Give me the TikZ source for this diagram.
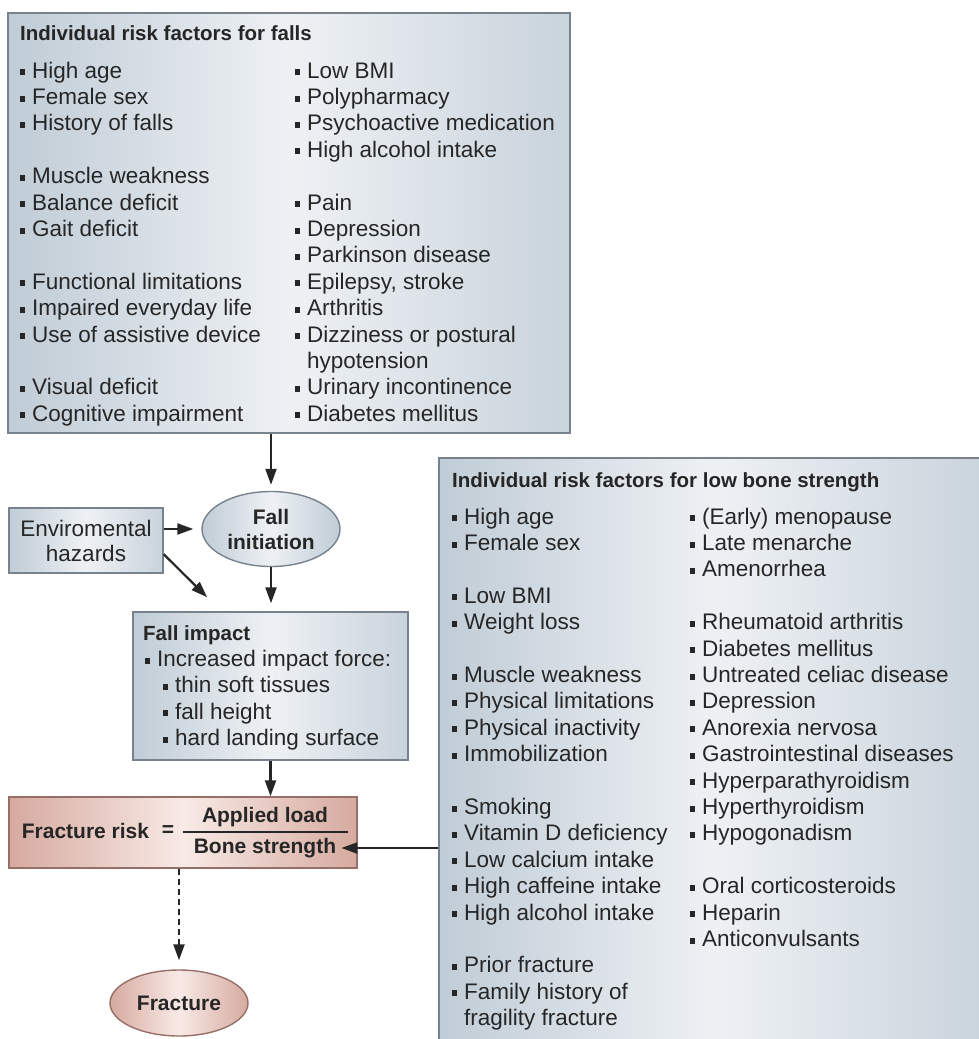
\documentclass[tikz,border=0pt]{standalone}
\usepackage{fontspec}
\setmainfont{Liberation Sans}
\usetikzlibrary{positioning, shapes.geometric, arrows.meta, calc}

\definecolor{boxdark}{RGB}{192,204,214}
\definecolor{boxlight}{RGB}{238,241,244}
\definecolor{boxline}{RGB}{120,130,140}
\definecolor{pinkdark}{RGB}{214,170,160}
\definecolor{pinklight}{RGB}{248,234,230}
\definecolor{pinkline}{RGB}{150,112,104}
\definecolor{inkgray}{RGB}{38,38,38}

\newcommand{\listfont}{\fontsize{22.5}{26.4}\selectfont}
\newcommand{\headfont}{\fontsize{20.5}{26.4}\selectfont\bfseries}
\newcommand{\sqbullet}{\rule[3pt]{5pt}{6pt}\hspace{7pt}}
\newcommand{\itm}[1]{\sqbullet#1}

\begin{document}
\begin{tikzpicture}[
    x=1pt, y=-1pt,
    % Define styles
    panel/.style={rectangle, draw=boxline, line width=1.4pt, inner sep=0pt, left color=boxdark, right color=boxdark!80!boxlight, middle color=boxlight},
    riskpanel/.style={rectangle, draw=pinkline, line width=1.4pt, inner sep=0pt, left color=pinkdark, right color=pinkdark, middle color=pinklight},
    oval/.style={ellipse, draw=boxline, line width=1.4pt, inner sep=0pt, align=center, text=inkgray, font={\fontsize{21}{25}\selectfont\bfseries}, left color=boxdark, right color=boxdark, middle color=boxlight},
    riskoval/.style={oval, draw=pinkline, left color=pinkdark, right color=pinkdark, middle color=pinklight},
    listtext/.style={inner sep=0pt, anchor=north west, text=inkgray, font=\listfont},
    term/.style={inner sep=2pt, text=inkgray, font={\fontsize{21}{25}\selectfont\bfseries}},
    arrow/.style={-{Triangle[length=16pt,width=11pt]}, line width=2.2pt, draw=inkgray}
]
    \useasboundingbox (0,0) rectangle (979,1039);
    \clip (0,0) rectangle (979,1039);

    % --- FALLS PANEL ---
    \node (falls) [panel, minimum width=562pt, minimum height=420pt] at (289,223) {};
    \node (fallslist) [listtext] at (20,21.5) {%
      \begin{tabular}{@{}p{275pt}@{}p{270pt}@{}}
      \multicolumn{2}{@{}l@{}}{\headfont Individual risk factors for falls}\\[11.6pt]
      \itm{High age} & \itm{Low BMI}\\
      \itm{Female sex} & \itm{Polypharmacy}\\
      \itm{History of falls} & \itm{Psychoactive medication}\\
       & \itm{High alcohol intake}\\
      \itm{Muscle weakness} & \\
      \itm{Balance deficit} & \itm{Pain}\\
      \itm{Gait deficit} & \itm{Depression}\\
       & \itm{Parkinson disease}\\
      \itm{Functional limitations} & \itm{Epilepsy, stroke}\\
      \itm{Impaired everyday life} & \itm{Arthritis}\\
      \itm{Use of assistive device} & \itm{Dizziness or postural}\\
       & \hspace{12pt}hypotension\\
      \itm{Visual deficit} & \itm{Urinary incontinence}\\
      \itm{Cognitive impairment} & \itm{Diabetes mellitus}\\
      \end{tabular}};

    % --- FALL CHAIN ---
    \node (env) [panel, minimum width=154pt, minimum height=65pt, align=center, text=inkgray, font={\fontsize{22.5}{25}\selectfont}] at (86,540.5) {Enviromental\\hazards};
    \node (init) [oval, minimum width=138pt, minimum height=75pt] at (271,529) {Fall\\initiation};

    \node (impact) [panel, minimum width=275pt, minimum height=148pt] at (270.5,686) {};
    \node (impactlist) [listtext] at (143,621.5) {%
      \begin{tabular}{@{}l@{}}
      {\headfont Fall impact}\\
      \hspace{2pt}\itm{Increased impact force:}\\
      \hspace{20pt}\itm{thin soft tissues}\\
      \hspace{20pt}\itm{fall height}\\
      \hspace{20pt}\itm{hard landing surface}\\
      \end{tabular}};

    % --- FRACTURE RISK ---
    \node (risk) [riskpanel, minimum width=348pt, minimum height=71pt] at (183,832.5) {};
    \node (risklabel) [term] at (85.5,831) {Fracture risk};
    \node (eqsign) [term] at (168,831) {=};
    \node (num) [term] at (265,817) {Applied load};
    \node (den) [term, inner xsep=5pt] at (265,848) {Bone strength};
    \coordinate (barleft) at (183,832);
    \coordinate (barright) at (348,832);
    \draw [line width=1.5pt, inkgray] (barleft) -- (barright);

    \node (fracture) [riskoval, minimum width=138pt, minimum height=66pt] at (179,1003) {Fracture};

    % --- BONE STRENGTH PANEL ---
    \node (bone) [panel, minimum width=551pt, minimum height=592pt] at (714.5,754) {};
    \node (bonelist) [listtext] at (452,468.5) {%
      \begin{tabular}{@{}p{238pt}@{}p{290pt}@{}}
      \multicolumn{2}{@{}l@{}}{\headfont Individual risk factors for low bone strength}\\[10.6pt]
      \itm{High age} & \itm{(Early) menopause}\\
      \itm{Female sex} & \itm{Late menarche}\\
       & \itm{Amenorrhea}\\
      \itm{Low BMI} & \\
      \itm{Weight loss} & \itm{Rheumatoid arthritis}\\
       & \itm{Diabetes mellitus}\\
      \itm{Muscle weakness} & \itm{Untreated celiac disease}\\
      \itm{Physical limitations} & \itm{Depression}\\
      \itm{Physical inactivity} & \itm{Anorexia nervosa}\\
      \itm{Immobilization} & \itm{Gastrointestinal diseases}\\
       & \itm{Hyperparathyroidism}\\
      \itm{Smoking} & \itm{Hyperthyroidism}\\
      \itm{Vitamin D deficiency} & \itm{Hypogonadism}\\
      \itm{Low calcium intake} & \\
      \itm{High caffeine intake} & \itm{Oral corticosteroids}\\
      \itm{High alcohol intake} & \itm{Heparin}\\
       & \itm{Anticonvulsants}\\
      \itm{Prior fracture} & \\
      \itm{Family history of} & \\
      \hspace{12pt}fragility fracture & \\
      \end{tabular}};

    % --- DRAW CONNECTIONS ---
    \draw [arrow, shorten >=6pt] (init.north |- falls.south) -- (init.north);
    \draw [arrow, shorten >=8pt] (env.east |- init.west) -- (init.west);
    \draw [arrow, shorten >=20pt] (env.350) -- ([xshift=89pt]impact.north west);
    \draw [arrow, shorten >=8pt] (init.south) -- (init.south |- impact.north);
    \draw [arrow] (impact.south) -- (impact.south |- risk.north);
    \draw [arrow] (bone.west |- den.east) -- (den.east);
    \draw [arrow, dash pattern=on 6pt off 4pt, shorten >=9pt] (fracture.north |- risk.south) -- (fracture.north);

\end{tikzpicture}
\end{document}
